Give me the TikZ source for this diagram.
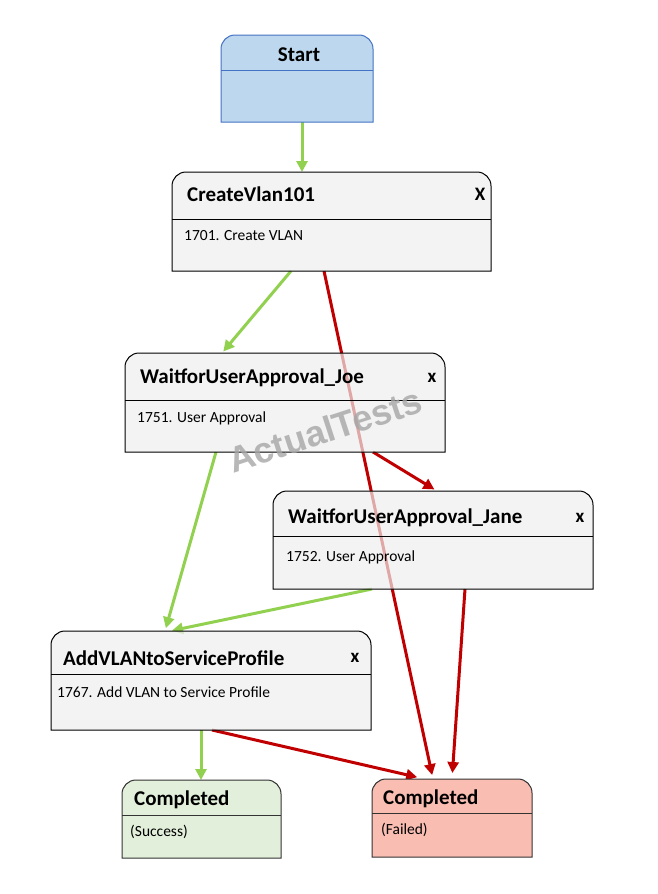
\documentclass[tikz,border=0pt]{standalone}
\usepackage{fontspec}
\setmainfont{Carlito}
\newfontfamily\markfont{Liberation Sans}
\usetikzlibrary{arrows.meta,backgrounds}

\definecolor{startfill}{HTML}{BDD7EE}
\definecolor{startline}{HTML}{4472C4}
\definecolor{stepfill}{HTML}{EEEEEE}
\definecolor{okfill}{HTML}{E2EFDA}
\definecolor{failfill}{HTML}{F9BDB2}
\definecolor{okgreen}{HTML}{92D050}
\definecolor{failred}{HTML}{C00000}

% frame of a workflow step: rounded on top, square at the bottom, with a header line
\newcommand{\wfframe}[6]{% name, position, width, height, look, header height
  \node[frame, minimum width=#3, minimum height=#4] (#1) at (#2) {};
  \filldraw[#5, rounded corners=14pt]
    (#1.south west) -- (#1.north west) -- (#1.north east) [sharp corners] -- (#1.south east) -- cycle;
  \draw[#5, fill=none] ([yshift=-#6]#1.north west) -- ([yshift=-#6]#1.north east);
}

\begin{document}
\begin{tikzpicture}[
  x=1pt, y=-1pt,
  frame/.style={rectangle, inner sep=0pt, outer sep=0pt},
  startbox/.style={fill=startfill, draw=startline, line width=1pt},
  stepbox/.style={fill=stepfill, fill opacity=0.7, draw=black, line width=1pt},
  okbox/.style={fill=okfill, draw=black!80, line width=1pt},
  failbox/.style={fill=failfill, draw=black!80, line width=1pt},
  title/.style={font=\fontsize{21}{24}\selectfont\bfseries, inner sep=0pt, anchor=west},
  closemark/.style={font=\fontsize{19}{22}\selectfont\bfseries, inner sep=0pt},
  task/.style={font=\fontsize{15.5}{18}\selectfont, inner sep=0pt, anchor=west},
  pass/.style={-{Triangle[length=11pt,width=11pt]}, line width=3pt, draw=okgreen},
  fail/.style={-{Triangle[length=11pt,width=11pt]}, line width=3pt, draw=failred},
  watermark/.style={font=\markfont\fontsize{36}{40}\selectfont\bfseries, text=black!35, opacity=0.8}]

\useasboundingbox (0,0) rectangle (658,894);

% Boxes
\wfframe{start}{297,78.5}{152pt}{87pt}{startbox}{35pt}
\node[font=\fontsize{21}{24}\selectfont\bfseries, inner sep=0pt] (startTitle) at ([xshift=2pt,yshift=-20pt]start.north) {Start};

\wfframe{createVlan}{331.5,221.5}{319pt}{99pt}{stepbox}{47pt}
\node[title] (createVlanTitle) at ([xshift=15pt,yshift=-22pt]createVlan.north west) {CreateVlan101};
\node[closemark] (createVlanClose) at ([xshift=-11pt,yshift=-22pt]createVlan.north east) {X};
\node[task] (createVlanTask) at ([xshift=12pt,yshift=-64pt]createVlan.north west) {1701. Create VLAN};

\wfframe{approvalJoe}{285,402.5}{320pt}{99pt}{stepbox}{47pt}
\node[title] (approvalJoeTitle) at ([xshift=15pt,yshift=-25pt]approvalJoe.north west) {WaitforUserApproval\_Joe};
\node[closemark] (approvalJoeClose) at ([xshift=-13pt,yshift=-25pt]approvalJoe.north east) {x};
\node[task] (approvalJoeTask) at ([xshift=12pt,yshift=-65pt]approvalJoe.north west) {1751. User Approval};

\wfframe{approvalJane}{433,540}{320pt}{98pt}{stepbox}{45pt}
\node[title] (approvalJaneTitle) at ([xshift=15pt,yshift=-27pt]approvalJane.north west) {WaitforUserApproval\_Jane};
\node[closemark] (approvalJaneClose) at ([xshift=-13pt,yshift=-27pt]approvalJane.north east) {x};
\node[task] (approvalJaneTask) at ([xshift=13pt,yshift=-66pt]approvalJane.north west) {1752. User Approval};

\wfframe{addVlan}{211,680.5}{320pt}{99pt}{stepbox}{43pt}
\node[title] (addVlanTitle) at ([xshift=12pt,yshift=-27pt]addVlan.north west) {AddVLANtoServiceProfile};
\node[closemark] (addVlanClose) at ([xshift=-16pt,yshift=-27pt]addVlan.north east) {x};
\node[task] (addVlanTask) at ([xshift=6pt,yshift=-61pt]addVlan.north west) {1767. Add VLAN to Service Profile};

\wfframe{doneOk}{201.5,819}{159pt}{78pt}{okbox}{35pt}
\node[title] (doneOkTitle) at ([xshift=12pt,yshift=-20pt]doneOk.north west) {Completed};
\node[task] (doneOkTask) at ([xshift=8pt,yshift=-52pt]doneOk.north west) {(Success)};

\wfframe{doneFail}{452,818}{160pt}{78pt}{failbox}{34pt}
\node[title] (doneFailTitle) at ([xshift=11pt,yshift=-20pt]doneFail.north west) {Completed};
\node[task] (doneFailTask) at ([xshift=9pt,yshift=-51pt]doneFail.north west) {(Failed)};

% Connectors go behind the boxes
\begin{scope}[on background layer]
\draw[pass] ([xshift=5pt]start.south) -- ([xshift=5pt]start.south |- createVlan.north);
\draw[pass, shorten >=2pt] ([xshift=-40.5pt]createVlan.south) -- ([xshift=-63pt]approvalJoe.north);
\draw[fail, shorten >=4pt] ([xshift=-7.5pt]createVlan.south) -- ([xshift=-19pt]doneFail.north);
\draw[fail, shorten >=3pt] ([xshift=88pt]approvalJoe.south) -- ([xshift=4pt]approvalJane.north);
\draw[pass, shorten >=3pt] ([xshift=-69pt]approvalJoe.south) -- ([xshift=-46pt]addVlan.north);
\draw[pass, shorten >=2pt] ([xshift=-61pt]approvalJane.south) -- ([xshift=-41pt]addVlan.north);
\draw[fail, shorten >=6pt] ([xshift=32pt]approvalJane.south) -- (doneFail.north);
\draw[fail, shorten >=8pt] ([xshift=1pt]addVlan.south) -- ([xshift=-27pt]doneFail.north);
\draw[pass] ([xshift=-10pt]addVlan.south) -- ([xshift=-10pt]addVlan.south |- doneOk.north);
\end{scope}

\node[watermark, rotate=18] (mark) at (325,430) {ActualTests};

\end{tikzpicture}
\end{document}
